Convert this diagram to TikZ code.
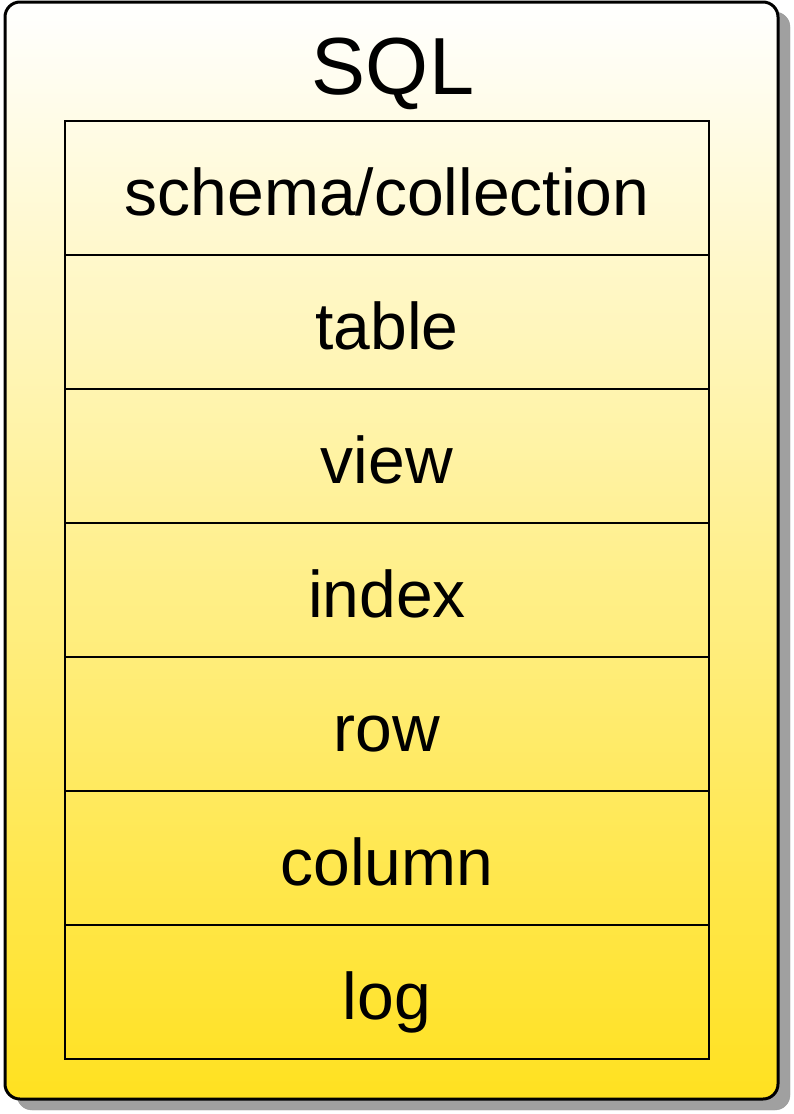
\documentclass[tikz,border=0pt]{standalone}
\usepackage{fontspec}
\setmainfont{Liberation Sans}
\definecolor{topc}{HTML}{FFFFFF}
\definecolor{botc}{HTML}{FFE120}
\definecolor{shadowc}{HTML}{A0A0A0}
\tikzset{
  cell/.style={draw=black, line width=1.6pt, outer sep=0pt, minimum width=644pt, minimum height=134pt, inner sep=0pt, text height=60pt, text depth=6pt, anchor=north, font=\fontsize{66}{66}\selectfont},
  outerbox/.style={line width=3pt, rounded corners=15pt},
}
\begin{document}
\begin{tikzpicture}[x=1pt,y=-1pt]
\useasboundingbox (0,0) rectangle (793,1114);
\fill[white] (0,0) rectangle (793,1114);
% shadow
\fill[shadowc, rounded corners=15pt, draw=gray!80] (17,12) rectangle (790,1110);
% outer box
\shade[top color=topc, bottom color=botc, rounded corners=15pt] (5,2) rectangle (778,1099);
\draw[outerbox] (5,2) rectangle (778,1099);
\node[font=\fontsize{81}{81}\selectfont] (title) at (393,74) {SQL};
\node[cell] (r1) at (387,121) {schema/collection};
\node[cell] (r2) at (r1.south) {table};
\node[cell] (r3) at (r2.south) {view};
\node[cell] (r4) at (r3.south) {index};
\node[cell] (r5) at (r4.south) {row};
\node[cell] (r6) at (r5.south) {column};
\node[cell] (r7) at (r6.south) {log};
\end{tikzpicture}
\end{document}
